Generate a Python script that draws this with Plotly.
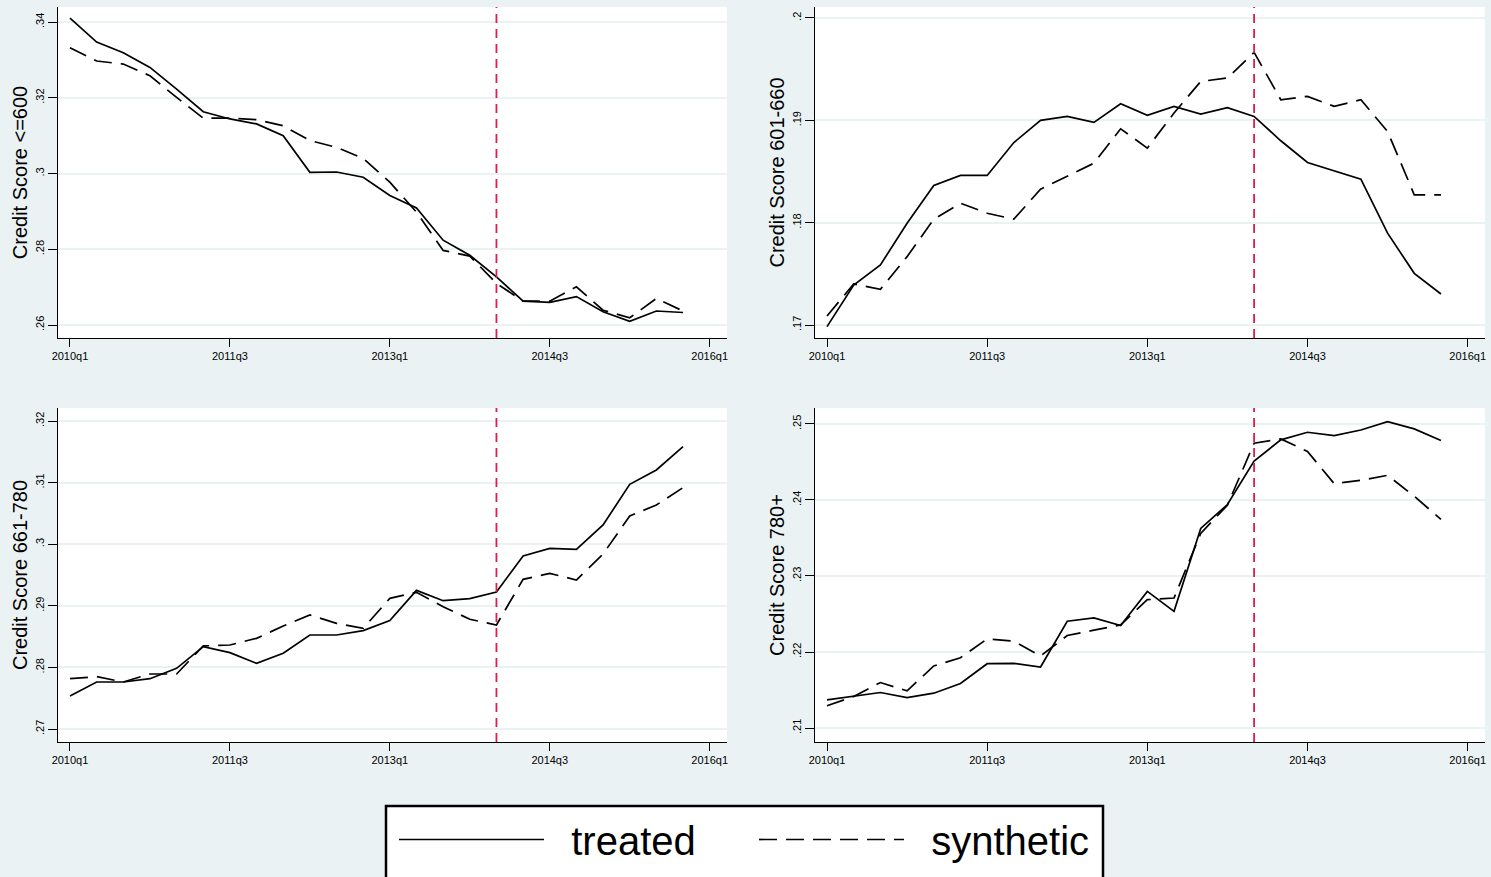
import plotly.graph_objects as go

quarters = ["2010q1","2010q2","2010q3","2010q4","2011q1","2011q2","2011q3","2011q4",
            "2012q1","2012q2","2012q3","2012q4","2013q1","2013q2","2013q3","2013q4",
            "2014q1","2014q2","2014q3","2014q4","2015q1","2015q2","2015q3","2015q4"]
tick_labels = ["2010q1", "2011q3", "2013q1", "2014q3", "2016q1"]
tick_positions = [0, 6, 12, 18, 24]
treatment_quarter = 16  # 2014q1

titles = ["Credit Score <=600", "Credit Score 601-660", "Credit Score 661-780", "Credit Score 780+"]

treated_600 = [.3410, .3347, .3319, .3280, .3223, .3163, .3144, .3131, .3100, .3003, .3004, .2990,
               .2942, .2909, .2824, .2784, .2727, .2663, .2660, .2675, .2635, .2610, .2637, .2633]
synth_600 = [.3332, .3297, .3289, .3258, .3201, .3146, .3146, .3142, .3126, .3087, .3069, .3040,
             .2977, .2898, .2797, .2782, .2710, .2663, .2663, .2701, .2639, .2619, .2670, .2637]

treated_660 = [.16984, .17391, .17587, .17994, .18363, .18461, .18461, .18783, .18999, .19038, .18979, .19162,
               .19048, .19136, .19061, .19123, .19038, .18800, .18588, .18506, .18425, .17897, .17505, .17303]
synth_660 = [.17088, .17401, .17349, .17668, .18034, .18190, .18092, .18034, .18327, .18451, .18581, .18917,
             .18728, .19071, .19380, .19413, .19664, .19201, .19234, .19136, .19201, .18891, .18272, .18272]

treated_780 = [.27536, .27763, .27763, .27817, .27985, .28337, .28239, .28066, .28229, .28526, .28526, .28597,
               .28759, .29251, .29083, .29116, .29224, .29809, .29933, .29917, .30312, .30972, .31205, .31583]
synth_780 = [.27817, .27850, .27763, .27893, .27893, .28348, .28364, .28472, .28672, .28851, .28716, .28634,
             .29121, .29219, .28986, .28781, .28689, .29430, .29527, .29419, .29841, .30458, .30636, .30918]

treated_780p = [.21371, .21414, .21467, .21401, .21458, .21585, .21846, .21851, .21803, .22405, .22448, .22348,
                .22797, .22535, .23626, .23940, .24511, .24791, .24891, .24847, .24921, .25031, .24935, .24782]
synth_780p = [.21292, .21414, .21598, .21489, .21816, .21925, .22173, .22143, .21947, .22217, .22287, .22357,
              .22688, .22710, .23561, .23931, .24747, .24804, .24638, .24215, .24258, .24324, .24049, .23744]

y_ticks = [[.26, .28, .30, .32, .34], [.17, .18, .19, .20], [.27, .28, .29, .30, .31, .32], [.21, .22, .23, .24, .25]]
y_tick_text = [[".26", ".28", ".3", ".32", ".34"], [".17", ".18", ".19", ".2"],
               [".27", ".28", ".29", ".3", ".31", ".32"], [".21", ".22", ".23", ".24", ".25"]]
y_ranges = [[.25657, .34396], [.16873, .20107], [.26789, .32211], [.20816, .2521]]

series = [(treated_600, synth_600), (treated_660, synth_660), (treated_780, synth_780), (treated_780p, synth_780p)]

W, H = 1491, 877
bg = "#EAF2F3"
FONT = "Liberation Sans, Arial"
x_idx = list(range(len(quarters)))

# panel pixel boxes (left, right, top, bottom)
boxes = [(58, 727, 7, 338), (815, 1485, 7, 338), (58, 727, 408, 742), (815, 1485, 408, 742)]

fig = go.Figure()
for k, ((tr, sy), box) in enumerate(zip(series, boxes)):
    n = k + 1
    xa = "x" if n == 1 else f"x{n}"
    ya = "y" if n == 1 else f"y{n}"
    fig.add_trace(go.Scatter(x=x_idx, y=tr, mode="lines", xaxis=xa, yaxis=ya,
                             line=dict(color="black", width=1.7), name="\u00a0\u00a0treated",
                             showlegend=(k == 0), customdata=quarters,
                             hovertemplate="%{customdata}: %{y}<extra>treated</extra>"))
    fig.add_trace(go.Scatter(x=x_idx, y=sy, mode="lines", xaxis=xa, yaxis=ya,
                             line=dict(color="black", width=1.7, dash="18px,9px"), name="\u00a0\u00a0synthetic",
                             showlegend=(k == 0), customdata=quarters,
                             hovertemplate="%{customdata}: %{y}<extra>synthetic</extra>"))
    l, r, t, b = box
    xkey = "xaxis" if n == 1 else f"xaxis{n}"
    ykey = "yaxis" if n == 1 else f"yaxis{n}"
    fig.update_layout(**{
        xkey: dict(domain=[l / W, r / W], range=[-0.45, 24.65], anchor=ya, automargin=False,
                   tickvals=tick_positions, ticktext=tick_labels, ticks="outside", ticklen=8,
                   tickcolor="black", showline=True, linecolor="black", linewidth=1.2,
                   showgrid=False, zeroline=False,
                   tickfont=dict(family=FONT, size=11, color="black")),
        ykey: dict(domain=[1 - b / H, 1 - t / H], range=y_ranges[k], anchor=xa, automargin=True,
                   tickvals=y_ticks[k], ticktext=y_tick_text[k], ticks="outside", ticklen=9,
                   tickcolor="black", showline=True, linecolor="black", linewidth=1.2,
                   showgrid=True, gridcolor=bg, gridwidth=1.5, zeroline=False, tickangle=-90,
                   tickfont=dict(family=FONT, size=11, color="black"),
                   title=dict(text=titles[k], standoff=0,
                              font=dict(family=FONT, size=20, color="black"))),
    })
    fig.add_shape(type="line", xref=xa, yref=f"{ya} domain", x0=treatment_quarter, x1=treatment_quarter,
                  y0=0, y1=1, line=dict(color="#DC1F48", width=1.8, dash="9px,6px"))

# legend frame (extends past the bottom edge, as in the original)
fig.add_shape(type="rect", xref="paper", yref="paper", x0=386 / W, x1=1103 / W,
              y0=-10 / H, y1=1 - 806 / H, fillcolor="white", line=dict(color="black", width=2.5),
              layer="above")

fig.update_layout(
    width=W, height=H, paper_bgcolor=bg, plot_bgcolor="white",
    margin=dict(l=0, r=0, t=0, b=0, autoexpand=False),
    showlegend=True,
    legend=dict(orientation="h", x=394 / W, y=1 - 807 / H, xanchor="left", yanchor="top",
                bgcolor="rgba(0,0,0,0)", borderwidth=0,
                font=dict(family=FONT, size=40, color="black"),
                itemwidth=145, entrywidth=200, traceorder="normal"),
)

fig.write_html("out.html", config={"displayModeBar": False}, post_script=(
    "document.body.style.margin='0px';document.body.style.padding='0px';"
    "document.body.style.overflow='hidden';"))
